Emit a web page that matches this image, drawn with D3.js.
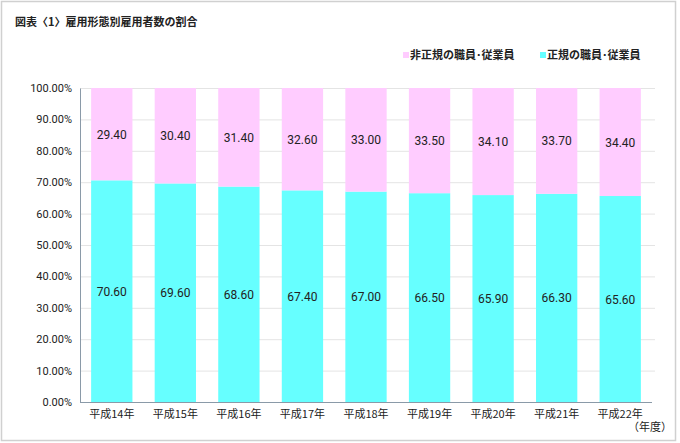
<!DOCTYPE html>
<html><head><meta charset="utf-8">
<script src="https://cdn.jsdelivr.net/npm/d3@7"></script>
<style>
body{margin:0;background:#fff;}
text{font-family:"Noto Sans CJK JP","Noto Sans",sans-serif;}
</style></head>
<body><svg id="c" width="680" height="443"></svg>
<script>
const categories = ["平成14年","平成15年","平成16年","平成17年","平成18年","平成19年","平成20年","平成21年","平成22年"];
const regular = [70.6,69.6,68.6,67.4,67.0,66.5,65.9,66.3,65.6];
const nonRegular = [29.4,30.4,31.4,32.6,33.0,33.5,34.1,33.7,34.4];
const seriesNames = ["非正規の職員･従業員","正規の職員･従業員"];
const yTicks = [0,10,20,30,40,50,60,70,80,90,100];

(function(){
const svg = d3.select("#c");
svg.append("rect").attr("x",1.5).attr("y",1.5).attr("width",674).attr("height",439)
  .attr("fill","#fff").attr("stroke","#d0d0d0").attr("stroke-width",1.5);

const pL=80, pR=652, pT=88, pB=402;
const x = d3.scaleBand().domain(categories).range([pL,pR]).paddingInner(0.35).paddingOuter(0.175);
const y = d3.scaleLinear().domain([0,100]).range([pB,pT]);

svg.append("g").selectAll("line").data(yTicks.filter(d=>d>0)).join("line")
  .attr("x1",pL).attr("x2",pR+3).attr("y1",d=>y(d)+0.5).attr("y2",d=>y(d)+0.5)
  .attr("stroke","#e4e4e4").attr("stroke-width",1);

const data = categories.map((c,i)=>({c, r:regular[i], n:nonRegular[i]}));
const colR="#66ffff", colN="#ffccff";
const g = svg.append("g");
g.selectAll("rect.r").data(data).join("rect").attr("class","r")
  .attr("x",d=>x(d.c)).attr("width",x.bandwidth())
  .attr("y",d=>y(d.r)).attr("height",d=>y(0)-y(d.r)).attr("fill",colR);
g.selectAll("rect.n").data(data).join("rect").attr("class","n")
  .attr("x",d=>x(d.c)).attr("width",x.bandwidth())
  .attr("y",d=>y(d.r+d.n)).attr("height",d=>y(d.r)-y(d.r+d.n)).attr("fill",colN);

g.selectAll("text.r").data(data).join("text").attr("class","r")
  .attr("x",d=>x(d.c)+x.bandwidth()/2).attr("y",d=>y(d.r/2)+4.5)
  .attr("text-anchor","middle").attr("font-size",12).attr("fill","#222")
  .style("font-family","Roboto,'Noto Sans',sans-serif")
  .text(d=>d.r.toFixed(2));
g.selectAll("text.n").data(data).join("text").attr("class","n")
  .attr("x",d=>x(d.c)+x.bandwidth()/2).attr("y",d=>y(d.r+d.n/2)+4.5)
  .attr("text-anchor","middle").attr("font-size",12).attr("fill","#222")
  .style("font-family","Roboto,'Noto Sans',sans-serif")
  .text(d=>d.n.toFixed(2));

const ya = svg.append("g").attr("transform",`translate(${pL},0)`)
  .call(d3.axisLeft(y).tickValues(yTicks).tickSize(0).tickPadding(8).tickFormat(d=>d.toFixed(2)+"%"));
ya.select(".domain").attr("stroke","#8a9aa8");
ya.selectAll("text").attr("font-size",11).attr("fill","#222").style("font-family","Roboto,'Noto Sans',sans-serif");

const xa = svg.append("g").attr("transform",`translate(0,${pB})`)
  .call(d3.axisBottom(x).tickSize(0).tickPadding(8));
xa.select(".domain").attr("stroke","#8a9aa8").attr("d",`M${pL},0.5H${pR}`);
xa.selectAll("text").attr("font-size",11).attr("fill","#222");

svg.append("text").attr("x",672).attr("y",431).attr("text-anchor","end")
  .attr("font-size",11).attr("fill","#222").text("（年度）");

svg.append("text").attr("x",15).attr("y",26).attr("font-size",11).attr("font-weight","bold")
  .attr("fill","#222").text("図表〈1〉雇用形態別雇用者数の割合");

const leg = [{name:seriesNames[0],col:colN,x:403},{name:seriesNames[1],col:colR,x:540}];
const lg = svg.append("g").selectAll("g").data(leg).join("g").attr("transform",d=>`translate(${d.x},0)`);
lg.append("rect").attr("x",0).attr("y",52).attr("width",6).attr("height",6).attr("fill",d=>d.col);
lg.append("text").attr("x",7).attr("y",59).attr("font-size",11).attr("font-weight","bold").attr("fill","#222").text(d=>d.name);
})();
</script></body></html>
